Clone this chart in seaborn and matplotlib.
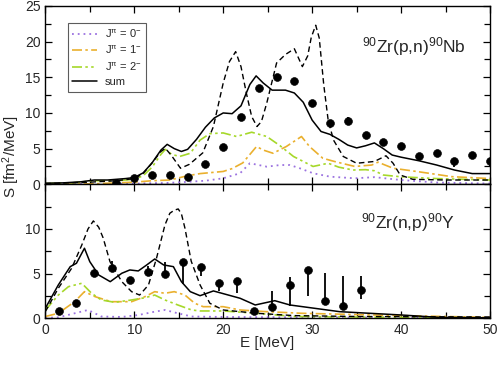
import numpy as np
import seaborn as sns
import matplotlib
matplotlib.use("Agg")
import matplotlib.pyplot as plt
from matplotlib.ticker import MultipleLocator
from matplotlib.lines import Line2D

# ---- top panel: 90Zr(p,n)90Nb ----
pn_E = [8, 10, 12, 14, 16, 18, 20, 22, 24, 26, 28, 30, 32, 34, 36, 38, 40, 42, 44, 46, 48, 50]
pn_S = [0.2, 0.93, 1.26, 1.26, 1.0, 2.9, 5.2, 9.45, 13.57, 15.0, 14.45, 11.46, 8.65,
        8.9, 6.97, 5.9, 5.38, 3.97, 4.44, 3.27, 4.11, 3.27]
pn_lo = [0, 0, 0, 0, 0, 0, 0, 0, 0, 0, 0, 0, 0.3, 0, 0, 0.5, 0, 0.3, 0, 0.8, 0.6, 0.65]
pn_hi = [0, 0, 0, 0, 0, 0, 0, 0, 0, 0, 0, 0, 0, 0.5, 0, 0, 0, 0, 0, 0, 0, 0]

pn_sum_E = [0, 2, 4, 5.5, 7, 9, 10, 11, 12, 13, 13.7, 14.5, 15.3, 16, 17, 18, 19, 20, 21, 22,
            23, 23.7, 24.5, 25.5, 27, 28, 29, 30, 31, 32, 33, 34, 35, 36, 37, 38, 39, 40,
            42, 44, 46, 48, 50]
pn_sum_S = [0.15, 0.2, 0.35, 0.6, 0.6, 0.8, 0.95, 1.6, 3.0, 4.8, 5.6, 5.0, 4.6, 4.9, 6.3, 8.0,
            9.3, 10.0, 9.9, 11.0, 14.0, 15.2, 14.2, 13.2, 13.2, 12.8, 11.5, 9.0, 7.4, 7.0,
            6.3, 5.5, 5.1, 5.4, 5.8, 5.0, 4.1, 3.8, 3.3, 2.7, 2.0, 1.5, 1.5]

pn_dash_E = [0, 5, 8, 10, 11, 12, 13, 13.5, 14.2, 15.2, 16.2, 17.7, 18.9, 20, 20.7, 21.4, 22.0,
             22.6, 23.2, 23.8, 24.3, 24.9, 26, 27, 28, 28.9, 29.5, 29.9, 30.4, 30.8, 31.3,
             31.8, 32.4, 33.5, 35, 37, 38.3, 39.1, 39.9, 41.3, 45, 50]
pn_dash_S = [0.1, 0.3, 0.5, 0.8, 1.5, 3.0, 4.6, 5.05, 4.0, 2.25, 2.8, 4.4, 8.1, 14.2, 17.2,
             18.6, 16.5, 12.8, 9.5, 8.1, 8.8, 11.4, 17.0, 18.2, 19.0, 16.5, 18.0, 20.6, 22.3,
             20.5, 14.0, 9.0, 6.2, 3.9, 2.95, 3.2, 4.0, 2.95, 1.3, 0.7, 0.6, 0.6]

pn_j0_E = [0, 5, 10, 14, 16.3, 18, 20, 21.9, 23, 24.9, 26.4, 27.5, 28.6, 30.1, 32, 34.8, 37,
           40, 44, 50]
pn_j0_S = [0.02, 0.05, 0.1, 0.2, 0.37, 0.5, 0.84, 1.55, 2.95, 2.47, 2.7, 2.7, 2.25, 1.55, 1.07,
           0.84, 1.0, 0.6, 0.25, 0.1]

pn_j1_E = [0, 5, 10, 12, 14, 16, 17.4, 20, 21, 22.2, 23.75, 24.5, 25.6, 27.1, 28.8, 29.7, 31.2,
           32.5, 34.8, 36.7, 37.4, 39.1, 41.9, 45.7, 50]
pn_j1_S = [0.02, 0.05, 0.3, 0.5, 0.6, 1.2, 1.5, 1.8, 2.2, 3.0, 5.3, 4.8, 4.35, 5.3, 6.7, 5.3,
           3.65, 3.2, 2.5, 2.7, 3.1, 2.25, 1.77, 1.07, 0.8]

pn_j2_E = [0, 3, 5.5, 8, 10, 11, 12, 13, 13.5, 14.2, 15.1, 16.3, 17.4, 18.5, 20, 21.5, 23.2,
           24.9, 26.4, 27.9, 30.1, 31.8, 33, 34.6, 36, 37, 38, 40, 44, 50]
pn_j2_S = [0.1, 0.2, 0.5, 0.5, 0.7, 1.2, 2.4, 4.2, 4.9, 4.2, 3.9, 4.35, 6.2, 7.1, 7.2, 6.7, 7.3,
           6.7, 5.4, 3.9, 2.5, 2.95, 2.4, 2.0, 2.05, 1.9, 1.3, 1.05, 0.8, 0.6]

# ---- bottom panel: 90Zr(n,p)90Y ----
np_E = [1.5, 3.5, 5.5, 7.5, 9.5, 11.5, 13.5, 15.5, 17.5, 19.5, 21.5, 23.5, 25.5, 27.5,
        29.5, 31.5, 33.5, 35.5]
np_S = [0.85, 1.75, 5.04, 5.6, 4.25, 5.18, 4.96, 6.34, 5.7, 3.92, 4.2, 0.85, 1.3, 3.76,
        5.37, 1.94, 1.41, 3.13]
np_lo = [0, 0, 0, 0, 0, 0, 0, 2.5, 0.95, 0.9, 1.4, 0, 0, 2.35, 2.87, 0, 0, 0.97]
np_hi = [0, 0, 0, 0.85, 0, 0.7, 1.3, 0, 0, 0, 0, 0, 1.76, 0.9, 0, 3.1, 3.36, 1.57]

np_sum_E = [0, 1.46, 2.8, 3.5, 4.4, 5.0, 6.0, 7.3, 8.6, 9.5, 10.45, 11.4, 12.3, 13.3, 14.4,
            15.3, 16.3, 17.4, 18.9, 21.9, 23.6, 25.8, 27.5, 33.1, 40, 44.3, 50]
np_sum_S = [1.12, 3.73, 5.78, 6.16, 7.84, 6.34, 4.85, 4.1, 5.04, 5.41, 5.3, 5.97, 6.64, 5.97,
            5.78, 4.1, 2.98, 2.53, 3.06, 2.24, 1.49, 1.97, 1.49, 0.74, 0.37, 0.1, 0.05]

np_dash_E = [0, 1.46, 2.96, 4.1, 4.8, 5.4, 6.0, 6.5, 7.27, 8.6, 9.7, 10.6, 11.6, 12.5, 13.45,
             14.0, 14.5, 14.94, 15.3, 15.7, 16.4, 17.4, 18.5, 20, 23.75, 28, 35, 50]
np_dash_S = [0.74, 3.36, 5.6, 8.2, 10.0, 10.9, 10.2, 9.0, 6.34, 4.1, 2.98, 2.6, 3.73, 6.72,
             10.45, 11.76, 12.1, 12.24, 11.7, 10.08, 6.4, 3.73, 1.68, 0.93, 0.56, 0.3, 0.2, 0.15]

np_j0_E = [0, 1.46, 3.3, 4.8, 6.3, 8.6, 10.5, 12.3, 13.45, 14.9, 16.45, 20, 30, 50]
np_j0_S = [0.05, 0.1, 0.56, 0.93, 0.2, 0.15, 0.37, 0.74, 0.93, 0.56, 0.2, 0.15, 0.1, 0.05]

np_j1_E = [0, 1.46, 3.3, 4.4, 5.6, 7.4, 9.7, 11.2, 12.3, 13.45, 14.5, 15.7, 16.8, 17.75, 20,
           21.9, 24.7, 28.8, 40, 50]
np_j1_S = [0.2, 0.56, 1.86, 2.98, 2.42, 1.86, 1.86, 2.42, 2.98, 2.8, 2.98, 2.6, 1.68, 1.3, 1.3,
           0.93, 0.75, 0.56, 0.3, 0.1]

np_j2_E = [0, 1.46, 2.6, 4.1, 5.2, 6.3, 7.8, 9.7, 11.2, 12.3, 13.45, 14.9, 16.45, 17.4, 20,
           23.75, 28, 40, 50]
np_j2_S = [0.9, 2.6, 3.54, 3.92, 2.8, 2.05, 1.79, 2.05, 2.3, 2.6, 2.05, 1.49, 0.93, 0.82, 0.82,
           0.56, 0.2, 0.1, 0.05]

c_j0 = "#9b72e0"
c_j1 = "#eab02e"
c_j2 = "#a6d82a"
ls_j0 = (0, (1, 2.2))
ls_j1 = (0, (6, 2, 1.5, 2))
ls_j2 = (0, (6, 2, 1.5, 2, 1.5, 2))

sns.set_style("ticks")
plt.rcParams["font.family"] = ["Liberation Sans", "DejaVu Sans"]
plt.rcParams["mathtext.default"] = "regular"

fig = plt.figure(figsize=(4.98, 3.81), dpi=100)
ax1 = fig.add_axes([0.091, 0.5163, 0.893, 0.468])
ax2 = fig.add_axes([0.091, 0.1646, 0.893, 0.3517])


def draw(ax, j0, j1, j2, summ, dash, pts, labels):
    kw = dict(ax=ax, estimator=None, sort=False, legend=False)
    sns.lineplot(x=j0[0], y=j0[1], color=c_j0, linestyle=ls_j0, lw=1.3, **kw)
    sns.lineplot(x=j1[0], y=j1[1], color=c_j1, linestyle=ls_j1, lw=1.2, **kw)
    sns.lineplot(x=j2[0], y=j2[1], color=c_j2, linestyle=ls_j2, lw=1.2, **kw)
    sns.lineplot(x=dash[0], y=dash[1], color="black", linestyle=(0, (4, 2.5)), lw=1.0, **kw)
    sns.lineplot(x=summ[0], y=summ[1], color="black", lw=1.1, **kw)
    E, S, lo, hi = pts
    ax.errorbar(E, S, yerr=[lo, hi], fmt="none", ecolor="black", elinewidth=1.3, capsize=0)
    sns.scatterplot(x=E, y=S, ax=ax, color="black", s=32, edgecolor="black", zorder=5, legend=False)
    if labels:
        handles = [
            Line2D([], [], color=c_j0, linestyle=ls_j0, lw=1.3),
            Line2D([], [], color=c_j1, linestyle=ls_j1, lw=1.2),
            Line2D([], [], color=c_j2, linestyle=ls_j2, lw=1.2),
            Line2D([], [], color="black", lw=1.1),
        ]
        leg = ax.legend(handles, labels, loc="upper left", bbox_to_anchor=(0.051, 0.905),
                        fontsize=8, frameon=True, fancybox=False, handlelength=2.2,
                        handletextpad=0.7, labelspacing=0.38, borderpad=0.4,
                        borderaxespad=0)
        leg.get_frame().set_edgecolor("#333333")
        leg.get_frame().set_linewidth(0.8)


draw(ax1, (pn_j0_E, pn_j0_S), (pn_j1_E, pn_j1_S), (pn_j2_E, pn_j2_S),
     (pn_sum_E, pn_sum_S), (pn_dash_E, pn_dash_S), (pn_E, pn_S, pn_lo, pn_hi),
     [r"J$^{\pi}$ = 0$^{-}$", r"J$^{\pi}$ = 1$^{-}$", r"J$^{\pi}$ = 2$^{-}$", "sum"])
draw(ax2, (np_j0_E, np_j0_S), (np_j1_E, np_j1_S), (np_j2_E, np_j2_S),
     (np_sum_E, np_sum_S), (np_dash_E, np_dash_S), (np_E, np_S, np_lo, np_hi), None)

ax1.set_ylim(0, 25)
ax2.set_ylim(0, 15)
for ax in (ax1, ax2):
    ax.set_xlim(0, 50)
    ax.xaxis.set_major_locator(MultipleLocator(10))
    ax.xaxis.set_minor_locator(MultipleLocator(5))
    ax.yaxis.set_major_locator(MultipleLocator(5))
    ax.yaxis.set_minor_locator(MultipleLocator(2.5))
    ax.tick_params(which="both", direction="in", top=True, right=True, labelsize=10,
                   width=0.9, color="black")
    ax.tick_params(which="major", length=5)
    ax.tick_params(which="minor", length=4.5)
    for sp in ax.spines.values():
        sp.set_visible(True)
        sp.set_linewidth(1.0)
        sp.set_color("black")
    ax.set_xlabel("")
    ax.set_ylabel("")
ax1.tick_params(labelbottom=False)
ax2.set_yticks([0, 5, 10])

ax1.text(41.4, 19.3, r"$^{90}$Zr(p,n)$^{90}$Nb", fontsize=12.5, ha="center", va="center")
ax2.text(40.7, 10.7, r"$^{90}$Zr(n,p)$^{90}$Y", fontsize=12.5, ha="center", va="center")

fig.text(0.022, 0.588, r"S [fm$^{2}$/MeV]", rotation=90, fontsize=11, ha="center", va="center")
fig.text(0.537, 0.1, "E [MeV]", fontsize=11, ha="center", va="center")

fig.savefig("out.png", dpi=100)
